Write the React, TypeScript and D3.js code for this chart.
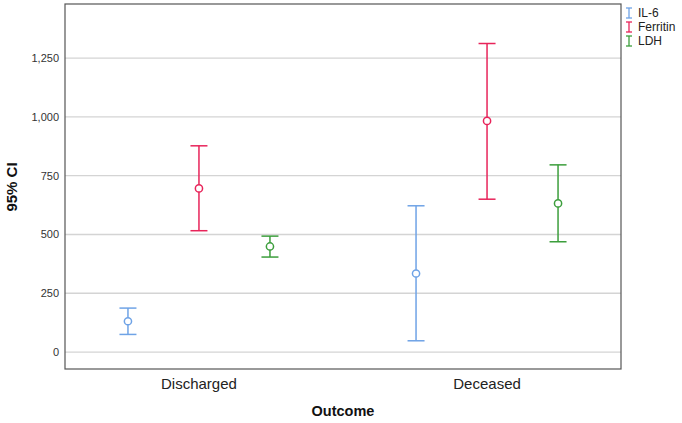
import React from "react";
import * as d3 from "d3";

const categories = ["Discharged", "Deceased"];
const seriesNames = ["IL-6", "Ferritin", "LDH"];
const seriesColors = ["#6fa3e6", "#e8245a", "#3c9e3c"];
// [category][series]
const means = [
  [131, 696, 449],
  [334, 983, 632],
];
const lowers = [
  [75, 516, 404],
  [48, 650, 469],
];
const uppers = [
  [187, 877, 493],
  [622, 1312, 796],
];
const yTicks = [0, 250, 500, 750, 1000, 1250];

const W = 682, H = 423;
const left = 65, right = 621, top = 4, bottom = 369;

export default function App() {
  const y = d3.scaleLinear().domain([-72, 1480]).range([bottom, top]);
  const x = d3.scalePoint<string>().domain(categories).range([left, right]).padding(0.465);
  const offset = 71;
  const fmt = d3.format(",");
  const font = "Arial, 'Liberation Sans', sans-serif";
  return (
    <svg width={W} height={H} style={{ position: "absolute", left: 0, top: 0, background: "#fff" }} fontFamily={font}>
      <rect x={left} y={top} width={right - left} height={bottom - top} fill="#fff" />
      {yTicks.map((t) => (
        <g key={t}>
          <line x1={left} x2={right} y1={y(t)} y2={y(t)} stroke="#d4d4d4" strokeWidth={1.3} />
          <text x={59} y={y(t)} dy="0.35em" textAnchor="end" fontSize={11} fill="#333">{fmt(t)}</text>
        </g>
      ))}
      <rect x={left} y={top} width={right - left} height={bottom - top} fill="none" stroke="#555" strokeWidth={1.2} />
      {categories.map((c, ci) =>
        seriesNames.map((s, si) => {
          const cx = (x(c) as number) + (si - 1) * offset;
          const col = seriesColors[si];
          return (
            <g key={c + s} stroke={col} strokeWidth={1.5} fill="none">
              <line x1={cx} x2={cx} y1={y(uppers[ci][si])} y2={y(lowers[ci][si])} />
              <line x1={cx - 8.5} x2={cx + 8.5} y1={y(uppers[ci][si])} y2={y(uppers[ci][si])} />
              <line x1={cx - 8.5} x2={cx + 8.5} y1={y(lowers[ci][si])} y2={y(lowers[ci][si])} />
              <circle cx={cx} cy={y(means[ci][si])} r={3.6} fill="#fff" />
            </g>
          );
        })
      )}
      {categories.map((c) => (
        <text key={c} x={x(c) as number} y={389} textAnchor="middle" fontSize={15} fill="#222">{c}</text>
      ))}
      <text x={343} y={416} textAnchor="middle" fontSize={14.5} fontWeight="bold" fill="#111">Outcome</text>
      <text transform={`translate(17,187) rotate(-90)`} textAnchor="middle" fontSize={15} fontWeight="bold" fill="#111">95% CI</text>
      {seriesNames.map((s, i) => {
        const ly = 13 + i * 14;
        const col = seriesColors[i];
        return (
          <g key={s}>
            <g stroke={col} strokeWidth={1.3}>
              <line x1={629} x2={629} y1={ly - 5} y2={ly + 5} />
              <line x1={626} x2={632} y1={ly - 5} y2={ly - 5} />
              <line x1={626} x2={632} y1={ly + 5} y2={ly + 5} />
            </g>
            <text x={638} y={ly} dy="0.35em" fontSize={12} fill="#222">{s}</text>
          </g>
        );
      })}
    </svg>
  );
}
